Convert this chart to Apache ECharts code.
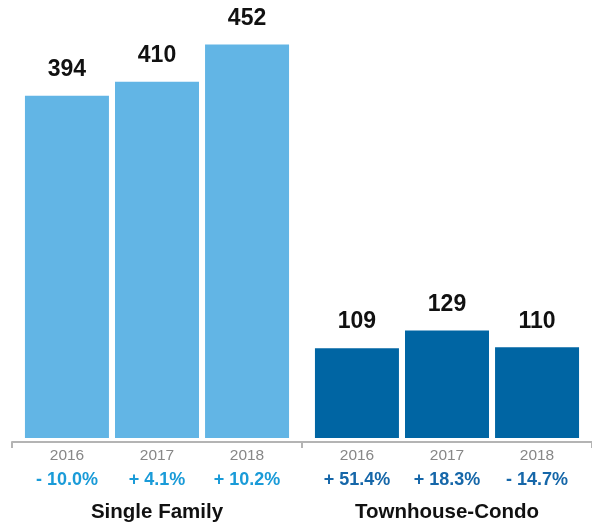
<!DOCTYPE html>
<html>
<head>
<meta charset="utf-8">
<style>
  html, body { margin: 0; padding: 0; background: #ffffff; }
  #chart { width: 592px; height: 530px; }
</style>
<script src="https://cdn.jsdelivr.net/npm/echarts@6/dist/echarts.min.js"></script>
</head>
<body>
<div id="chart"></div>
<script>
// Property groups on the category axis
const groups = ['Single Family', 'Townhouse-Condo'];
// Years shown under each bar
const years = ['2016', '2017', '2018'];
// Values per year
const singleFamily = [394, 410, 452];
const townhouseCondo = [109, 129, 110];
// Year-over-year change labels
const singleFamilyChange = ['- 10.0%', '+ 4.1%', '+ 10.2%'];
const townhouseCondoChange = ['+ 51.4%', '+ 18.3%', '- 14.7%'];

const FONT = '"Liberation Sans", Arial, Helvetica, sans-serif';
const LIGHT = '#62b5e5';
const DARK = '#0065a3';
const LIGHT_TEXT = '#1a9bd8';
const DARK_TEXT = '#1667a9';
const AXIS_GREY = '#b4b4b4';

const chart = echarts.init(document.getElementById('chart'), null, { renderer: 'canvas' });

const series = years.map((yr, i) => ({
  name: yr,
  type: 'bar',
  clip: true,
  barWidth: 84,
  barGap: '7.2%',
  data: [
    { value: singleFamily[i], itemStyle: { color: LIGHT } },
    { value: townhouseCondo[i], itemStyle: { color: DARK } }
  ],
  label: {
    show: true,
    position: 'top',
    distance: 14.5,
    fontFamily: FONT,
    fontWeight: 'bold',
    fontSize: 23,
    color: '#111111'
  }
}));

function groupLabel(value, index) {
  const changes = index === 0 ? singleFamilyChange : townhouseCondoChange;
  const style = index === 0 ? 'a' : 'b';
  const yearLine = years.map(y => '{y|' + y + '}').join('');
  const changeLine = changes.map(c => '{' + style + '|' + c + '}').join('');
  return yearLine + '\n' + changeLine + '\n{t|' + value + '}';
}

chart.setOption({
  animation: false,
  backgroundColor: '#ffffff',
  grid: { left: 12, right: -2, top: 2, bottom: 91, containLabel: false },
  xAxis: {
    type: 'category',
    data: groups,
    offset: 4,
    axisLine: { show: true, lineStyle: { color: AXIS_GREY, width: 2 } },
    axisTick: { show: true, length: 6, lineStyle: { color: AXIS_GREY, width: 2 } },
    axisLabel: {
      margin: 4,
      interval: 0,
      formatter: groupLabel,
      rich: {
        y: { width: 90, align: 'center', height: 20, lineHeight: 20, fontFamily: FONT, fontSize: 15.5, color: '#878787' },
        a: { width: 90, align: 'center', height: 28, lineHeight: 28, fontFamily: FONT, fontSize: 18, fontWeight: 'bold', color: LIGHT_TEXT },
        b: { width: 90, align: 'center', height: 28, lineHeight: 28, fontFamily: FONT, fontSize: 18, fontWeight: 'bold', color: DARK_TEXT },
        t: { width: 270, align: 'center', height: 36, lineHeight: 36, fontFamily: FONT, fontSize: 20.5, fontWeight: 'bold', color: '#111111' }
      }
    }
  },
  yAxis: {
    type: 'value',
    min: 7.5,
    max: 500,
    show: false,
    splitLine: { show: false }
  },
  series: series
});
</script>
</body>
</html>
